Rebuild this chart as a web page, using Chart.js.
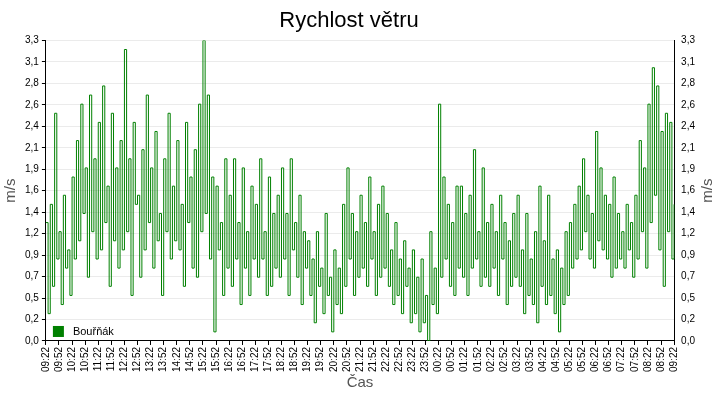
<!DOCTYPE html>
<html>
<head>
<meta charset="utf-8">
<script src="https://cdn.jsdelivr.net/npm/chart.js@4"></script>
<style>
  body { margin: 0; background: #fff; }
  #wrap { width: 720px; height: 400px; }
</style>
</head>
<body>
<div id="wrap"><canvas id="chart"></canvas></div>
<script>
// Station / series
const seriesName = "Bouřňák";
const startHour = 9, startMinute = 22, stepMinutes = 5;

// Wind speed m/s, one value per 5 minutes (09:22 -> 09:22 next day)
const windSpeed = [
  1.3,0.3,1.5,0.6,2.5,0.9,1.2,0.4,1.6,0.8,1.0,0.5,
  1.8,0.9,2.2,1.1,2.6,1.4,1.9,0.7,2.7,1.2,2.0,0.9,
  2.4,1.0,2.8,1.3,1.7,0.6,2.5,1.1,1.9,0.8,2.2,1.0,
  3.2,1.2,2.0,0.5,2.4,1.5,1.6,0.7,2.1,1.0,2.7,1.3,
  1.9,0.8,2.3,1.1,1.4,0.5,2.0,1.2,2.5,0.9,1.7,1.1,
  2.2,1.0,1.5,0.6,2.4,1.3,1.8,0.8,2.1,0.7,2.6,1.2,
  3.3,1.4,2.7,0.9,1.8,0.1,1.7,1.0,1.3,0.5,2.0,0.8,
  1.6,0.6,2.0,0.9,1.3,0.4,1.9,0.8,1.2,0.5,1.7,0.9,
  1.5,0.7,2.0,0.9,1.2,0.5,1.8,0.6,1.4,0.8,1.6,0.7,
  1.9,0.9,1.4,0.5,2.0,1.0,1.3,0.7,1.6,0.4,1.2,0.8,
  1.1,0.5,0.9,0.2,1.2,0.6,0.8,0.3,1.4,0.5,0.7,0.1,
  1.0,0.4,0.8,0.3,1.5,0.6,1.9,0.9,1.4,0.5,1.2,0.7,
  1.6,0.8,1.3,0.6,1.8,0.9,1.2,0.5,1.5,0.7,1.7,0.8,
  1.4,0.6,1.0,0.4,1.3,0.5,0.9,0.3,1.1,0.6,0.8,0.2,
  1.0,0.3,0.7,0.1,0.9,0.2,0.5,0.0,1.2,0.4,0.8,0.3,
  2.6,0.7,1.8,0.9,1.5,0.6,1.3,0.5,1.7,0.8,1.7,0.7,
  1.4,0.5,1.6,0.8,2.1,0.9,1.2,0.6,1.9,0.7,1.3,0.6,
  1.5,0.8,1.2,0.5,1.6,0.9,1.3,0.4,1.1,0.6,1.4,0.7,
  1.6,0.6,1.0,0.3,1.4,0.5,0.9,0.4,1.2,0.2,1.7,0.6,
  1.1,0.4,1.6,0.5,0.9,0.3,1.0,0.1,0.8,0.4,1.2,0.5,
  1.3,0.8,1.5,0.9,1.7,1.0,2.0,1.2,1.6,0.9,1.4,0.8,
  2.3,1.1,1.9,1.0,1.6,0.9,1.5,0.7,1.8,0.8,1.4,0.9,
  1.2,0.8,1.5,1.0,1.3,0.7,1.6,0.9,2.2,1.2,1.9,0.8,
  2.6,1.3,3.0,1.6,2.8,1.0,2.3,0.6,2.5,1.2,2.4,0.9,
  1.5
];

// Y tick values (axis 0..3.3 split into 14 steps)
const yMax = 3.3;
const yTicks = [0, 0.2357, 0.4714, 0.7071, 0.9429, 1.1786, 1.4143, 1.65, 1.8857, 2.1214, 2.3571, 2.5929, 2.8286, 3.0643, 3.3];

// Time labels
const timeLabels = windSpeed.map(function(v, i) {
    let m = startHour * 60 + startMinute + i * stepMinutes;
    let h = Math.floor(m / 60) % 24;
    let mm = m % 60;
    return String(h).padStart(2, "0") + ":" + String(mm).padStart(2, "0");
});

function fmt(v) { return v.toFixed(1).replace(".", ","); }

const font = "'Liberation Sans', Arial";

// legend inside the plot (bottom left) and the right axis title reading upwards
const extras = {
    id: "extras",
    afterDatasetsDraw(chart) {
        const ctx = chart.ctx;
        const a = chart.chartArea;
        ctx.save();
        ctx.fillStyle = "#008000";
        ctx.fillRect(a.left + 7, a.bottom - 15, 11, 11);
        ctx.fillStyle = "#000";
        ctx.font = "11px " + font;
        ctx.textBaseline = "middle";
        ctx.fillText(seriesName, a.left + 27, a.bottom - 9);

        ctx.fillStyle = "#555";
        ctx.font = "15px " + font;
        ctx.textAlign = "center";
        ctx.translate(chart.width - 12, (a.top + a.bottom) / 2);
        ctx.rotate(-Math.PI / 2);
        ctx.fillText("m/s", 0, 0);
        ctx.restore();
    }
};

const yAxis = function(pos) {
    return {
        position: pos,
        min: 0, max: yMax,
        afterBuildTicks: function(axis) { axis.ticks = yTicks.map(function(v) { return { value: v }; }); },
        ticks: { callback: function(v) { return fmt(v); }, color: "#000", font: { size: 10, family: font }, padding: 3 },
        grid: { display: pos === "left", color: "#ebebeb", drawTicks: true, tickLength: 4, tickColor: "#000" },
        border: { color: "#000", width: 1 },
        title: { display: pos === "left", text: "m/s", color: "#555", font: { size: 15, family: font }, padding: 2 }
    };
};

new Chart(document.getElementById("chart"), {
    type: "line",
    data: {
        labels: timeLabels,
        datasets: [{
            label: seriesName,
            data: windSpeed,
            borderColor: "#008000",
            borderWidth: 1,
            stepped: true,
            pointRadius: 0,
            fill: false,
            yAxisID: "y"
        }]
    },
    options: {
        responsive: true,
        maintainAspectRatio: false,
        animation: false,
        layout: { padding: { left: 0, right: 22, top: 0, bottom: 8 } },
        plugins: {
            legend: { display: false },
            tooltip: { enabled: false },
            title: { display: true, text: "Rychlost větru", color: "#000", font: { size: 22, weight: "normal", family: font }, padding: { top: 8, bottom: 6 } }
        },
        scales: {
            x: {
                offset: false,
                ticks: {
                    autoSkip: false, maxRotation: 90, minRotation: 90,
                    color: "#000", font: { size: 10, family: font }, padding: 2,
                    callback: function(v, i) { return i % 6 === 0 ? timeLabels[i] : null; }
                },
                grid: { drawOnChartArea: false, tickLength: 4, tickColor: "#000" },
                border: { color: "#000" },
                title: { display: true, text: "Čas", color: "#555", font: { size: 15, family: font }, padding: 0 }
            },
            y: yAxis("left"),
            y2: yAxis("right")
        }
    },
    plugins: [extras]
});
</script>
</body>
</html>
